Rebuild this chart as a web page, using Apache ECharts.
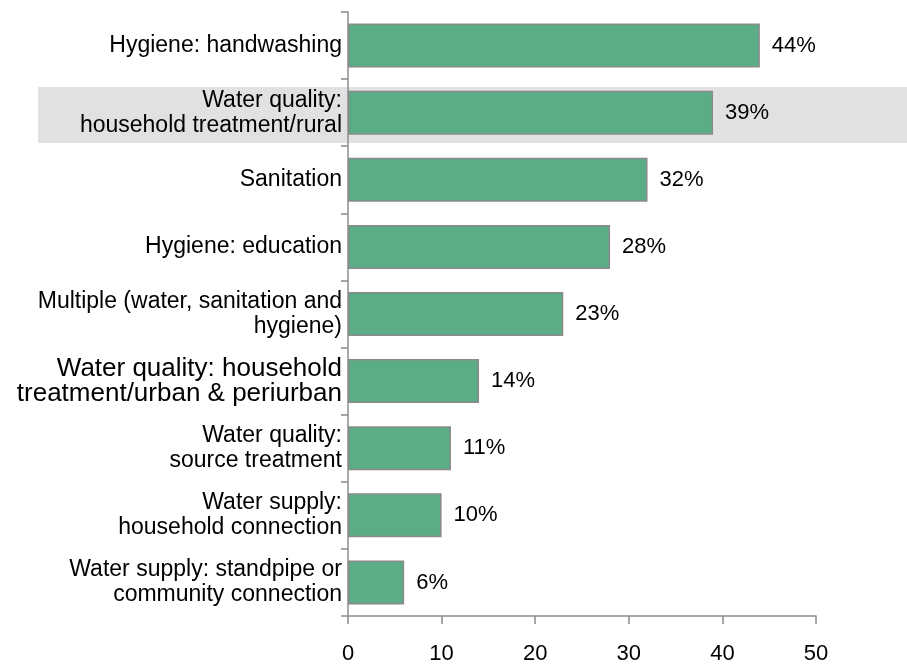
<!DOCTYPE html>
<html>
<head>
<meta charset="utf-8">
<script src="https://cdn.jsdelivr.net/npm/echarts@6/dist/echarts.min.js"></script>
<style>
  html, body { margin: 0; padding: 0; background: #fff; }
  #chart { width: 907px; height: 665px; }
</style>
</head>
<body>
<div id="chart"></div>
<script>
// categories, top to bottom
const categories = [
  'Hygiene: handwashing',
  'Water quality:\nhousehold treatment/rural',
  'Sanitation',
  'Hygiene: education',
  'Multiple (water, sanitation and\nhygiene)',
  'Water quality: household\ntreatment/urban & periurban',
  'Water quality:\nsource treatment',
  'Water supply:\nhousehold connection',
  'Water supply: standpipe or\ncommunity connection'
]
const shares = [44, 39, 32, 28, 23, 14, 11, 10, 6]
const xTicks = [0, 10, 20, 30, 40, 50]

const font = "'Liberation Sans', Arial, Helvetica, sans-serif"
const axisGray = '#8c8c8c'

const chart = echarts.init(document.getElementById('chart'))
chart.setOption({
  animation: false,
  textStyle: { fontFamily: font },
  grid: { left: 348, right: 91, top: 12, bottom: 48, containLabel: false },
  graphic: [
    {
      type: 'rect',
      z: -10,
      silent: true,
      shape: { x: 38, y: 87, width: 869, height: 56 },
      style: { fill: '#e1e1e1' }
    }
  ],
  xAxis: {
    type: 'value',
    min: xTicks[0],
    max: xTicks[xTicks.length - 1],
    interval: 10,
    axisLine: { show: true, lineStyle: { color: axisGray, width: 1.5 } },
    axisTick: { show: true, length: 8, lineStyle: { color: axisGray, width: 1.5 } },
    axisLabel: { color: '#000', fontSize: 22, margin: 27, fontFamily: font },
    splitLine: { show: false }
  },
  yAxis: {
    type: 'category',
    inverse: true,
    data: categories,
    axisLine: { show: true, lineStyle: { color: axisGray, width: 1.5 } },
    axisTick: { show: true, length: 7, lineStyle: { color: axisGray, width: 1.5 } },
    axisLabel: {
      color: '#000',
      fontSize: 23,
      lineHeight: 25,
      margin: 6,
      fontFamily: font,
      formatter: function (value) {
        if (value.indexOf('periurban') >= 0) {
          return value.split('\n').map(s => '{big|' + s + '}').join('\n')
        }
        return value
      },
      rich: {
        big: { fontSize: 26, lineHeight: 25, color: '#000', fontFamily: font }
      }
    }
  },
  series: [
    {
      type: 'bar',
      data: shares,
      barWidth: 44,
      itemStyle: {
        color: '#5aad84',
        borderColor: '#8a8a8a',
        borderWidth: 1.5
      },
      label: {
        show: true,
        position: 'right',
        distance: 12,
        color: '#000',
        fontSize: 22,
        fontFamily: font,
        formatter: '{c}%'
      }
    }
  ]
})
</script>
</body>
</html>
